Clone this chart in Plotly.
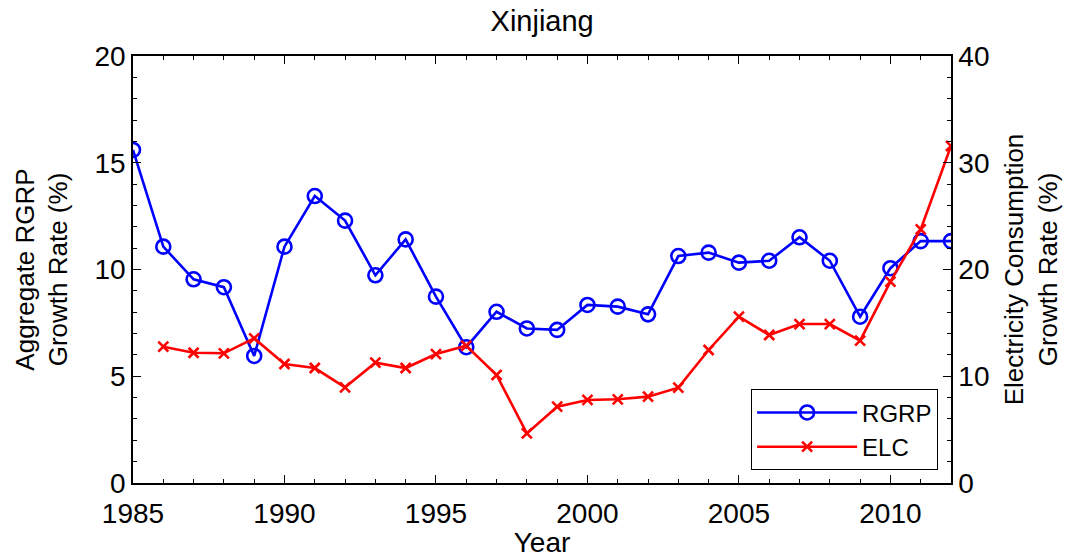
import plotly.graph_objects as go

# Xinjiang: annual growth rates
years = list(range(1985, 2013))
rgrp = [15.6, 11.07, 9.54, 9.17, 5.95, 11.07, 13.44, 12.29, 9.73, 11.41,
        8.73, 6.36, 8.02, 7.24, 7.17, 8.34, 8.26, 7.9, 10.63, 10.79,
        10.32, 10.41, 11.51, 10.41, 7.79, 10.06, 11.33, 11.33]
elc_years = list(range(1986, 2013))
elc = [12.77, 12.2, 12.15, 13.55, 11.15, 10.77, 8.96, 11.27, 10.77, 12.08,
       12.86, 10.12, 4.65, 7.15, 7.78, 7.84, 8.09, 8.93, 12.46, 15.58,
       13.86, 14.89, 14.89, 13.33, 18.86, 23.76, 31.57]

FONT = "Liberation Sans, Arial, sans-serif"

fig = go.Figure()
fig.add_trace(go.Scatter(
    x=years, y=rgrp, name="RGRP", mode="lines+markers",
    line=dict(color="#0000ff", width=2.6),
    marker=dict(symbol="circle-open", size=14, color="#0000ff",
                line=dict(width=2.6, color="#0000ff")),
))
fig.add_trace(go.Scatter(
    x=elc_years, y=elc, name="ELC", mode="lines+markers", yaxis="y2",
    line=dict(color="#ff0000", width=2.6),
    marker=dict(symbol="x-thin", size=10, color="#ff0000",
                line=dict(width=2.6, color="#ff0000")),
))

axis_common = dict(
    showgrid=False, zeroline=False, showline=True, linecolor="black",
    linewidth=1.5, ticks="inside", tickcolor="black", ticklen=8,
    tickwidth=1.2, tickfont=dict(size=28, color="black", family=FONT),
)

fig.update_layout(
    width=1077, height=558,
    margin=dict(l=133, r=126, t=56, b=75),
    paper_bgcolor="white", plot_bgcolor="white",
    font=dict(family=FONT, color="black", size=26),
    title=dict(text="Xinjiang", x=0.5034, xanchor="center", y=0.962,
               yanchor="middle", font=dict(size=29, family=FONT)),
    xaxis=dict(
        range=[1985, 2012], tick0=1985, dtick=5, mirror="ticks",
        minor=dict(dtick=1, ticklen=4, ticks="inside", tickcolor="black"),
        ticklabelstandoff=5, automargin=False,
        title=dict(text="Year", standoff=0, font=dict(size=28)),
        **axis_common,
    ),
    yaxis=dict(
        range=[0, 20], tick0=0, dtick=5,
        minor=dict(dtick=1, ticklen=4, ticks="inside", tickcolor="black"),
        title=dict(text="Aggregate RGRP<br>Growth Rate (%)", standoff=19,
                   font=dict(size=26)),
        **axis_common,
    ),
    yaxis2=dict(
        range=[0, 40], tick0=0, dtick=10, overlaying="y", side="right",
        minor=dict(dtick=2, ticklen=4, ticks="inside", tickcolor="black"),
        title=dict(text="Electricity Consumption<br>Growth Rate (%)",
                   standoff=16, font=dict(size=26)),
        **axis_common,
    ),
    legend=dict(
        x=0.984, xanchor="right", y=0.03, yanchor="bottom",
        bgcolor="white", bordercolor="black", borderwidth=1.2,
        font=dict(size=24, family=FONT), itemwidth=100,
    ),
    showlegend=True,
)

fig.write_html("out.html")
